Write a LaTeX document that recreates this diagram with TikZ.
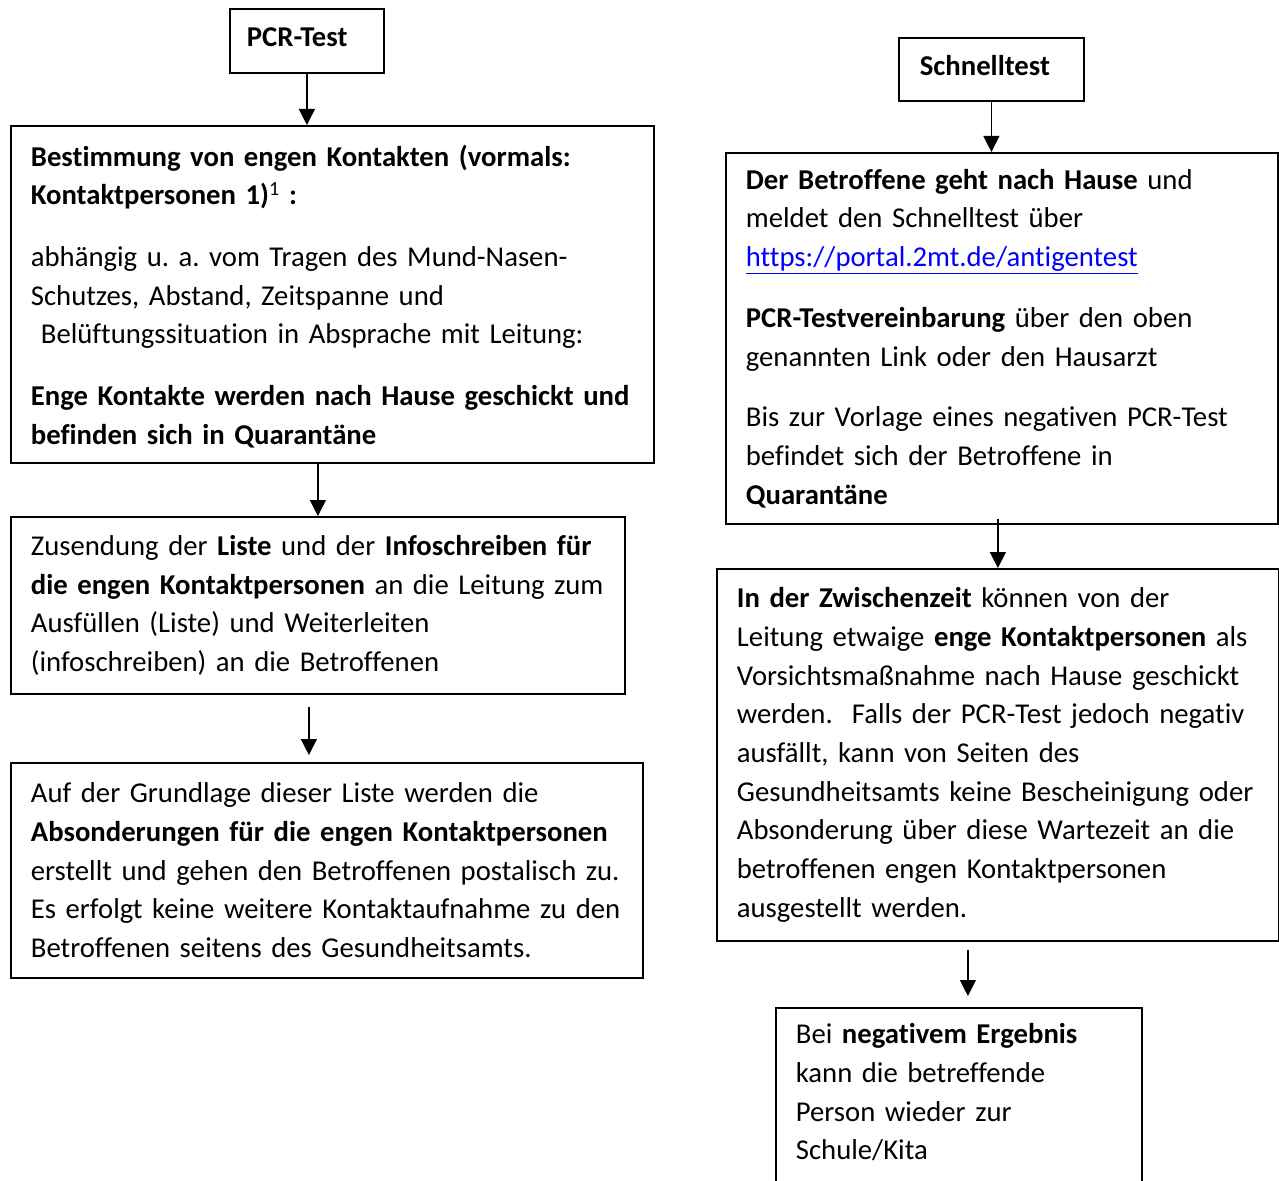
\documentclass[tikz,border=0pt]{standalone}
\usepackage{fontspec}
\setmainfont{Carlito}[Ligatures=CommonOff, WordSpace=0.8]
\usepackage{tikz}
\usetikzlibrary{arrows.meta,positioning,calc}
\definecolor{linkblue}{RGB}{0,0,255}
\tikzstyle{box}=[draw, line width=1.8pt, rectangle, anchor=north west, inner xsep=20pt, inner ysep=0pt, align=left]
\tikzstyle{arrow}=[draw, line width=1.3pt, -{Triangle[width=16pt,length=16pt]}]
\frenchspacing

\begin{document}
\begin{tikzpicture}[x=1pt, y=-1pt, font=\fontsize{28.7pt}{38.67pt}\selectfont]

    \useasboundingbox (0,0) rectangle (1279,1180);

    % PCR-Test column
    \node[box, inner xsep=17pt, text width=120pt, minimum height=64pt] (pcr) at (229,8) {\textbf{PCR-Test}\rule[-7pt]{0pt}{0pt}};

    \node[box, text width=603pt, minimum height=337pt] (kontakte) at (10,125) {%
        \rule{0pt}{25pt}\textbf{Bestimmung von engen Kontakten (vormals:}\\
        \textbf{Kontaktpersonen 1)}\textsuperscript{1}\textbf{ :}\\[23pt]
        abhängig u. a. vom Tragen des Mund-Nasen-\\
        Schutzes, Abstand, Zeitspanne und\\
        \hspace*{10pt}Belüftungssituation in Absprache mit Leitung:\\[23pt]
        \textbf{Enge Kontakte werden nach Hause geschickt und}\\
        \textbf{befinden sich in Quarantäne}};

    \node[box, text width=574pt, minimum height=177pt] (liste) at (10,516) {%
        Zusendung der \textbf{Liste} und der \textbf{Infoschreiben für}\\
        \textbf{die engen Kontaktpersonen} an die Leitung zum\\
        Ausfüllen (Liste) und Weiterleiten\\
        (infoschreiben) an die Betroffenen};

    \node[box, text width=592pt, minimum height=215pt] (absonderung) at (10,762) {%
        Auf der Grundlage dieser Liste werden die\\
        \textbf{Absonderungen für die engen Kontaktpersonen}\\
        erstellt und gehen den Betroffenen postalisch zu.\\
        Es erfolgt keine weitere Kontaktaufnahme zu den\\
        Betroffenen seitens des Gesundheitsamts.};

    % Schnelltest column
    \node[box, inner xsep=21pt, text width=143pt, minimum height=63pt] (schnell) at (898,37) {\textbf{Schnelltest}\rule[-7pt]{0pt}{0pt}};

    \node[box, text width=512pt, minimum height=371pt] (hause) at (725,152) {%
        \textbf{Der Betroffene geht nach Hause} und\\
        meldet den Schnelltest über\\
        \textcolor{linkblue}{\underline{https://portal.2mt.de/antigentest}}\\[22pt]
        \textbf{PCR-Testvereinbarung} über den oben\\
        genannten Link oder den Hausarzt\\[22pt]
        Bis zur Vorlage eines negativen PCR-Test\\
        befindet sich der Betroffene in\\
        \textbf{Quarantäne}};

    \node[box, text width=522pt, minimum height=372pt] (zwischenzeit) at (716,568) {%
        \textbf{In der Zwischenzeit} können von der\\
        Leitung etwaige \textbf{enge Kontaktpersonen} als\\
        Vorsichtsmaßnahme nach Hause geschickt\\
        werden.\ \ Falls der PCR-Test jedoch negativ\\
        ausfällt, kann von Seiten des\\
        Gesundheitsamts keine Bescheinigung oder\\
        Absonderung über diese Wartezeit an die\\
        betroffenen engen Kontaktpersonen\\
        ausgestellt werden.};

    % bottom edge lies below the page, as in the original
    \node[box, text width=326pt, minimum height=183pt] (negativ) at (775,1007) {%
        Bei \textbf{negativem Ergebnis}\\
        kann die betreffende\\
        Person wieder zur\\
        Schule/Kita\rule[-15pt]{0pt}{0pt}};

    % Arrows
    \draw[arrow] (pcr.south) -- (pcr.south |- kontakte.north);
    \draw[arrow] (kontakte.south -| liste.north) -- (liste.north);
    \draw[arrow] ($(liste.south)+(-9,12)$) -- ($(liste.south |- absonderung.north)+(-9,-7)$);

    \draw[arrow] (schnell.south) -- (schnell.south |- hause.north);
    \draw[arrow] ($(hause.south -| zwischenzeit.north)+(0,-6)$) -- (zwischenzeit.north);
    \draw[arrow] ($(zwischenzeit.south)+(-30,8)$) -- ($(zwischenzeit.south |- negativ.north)+(-30,-11)$);

\end{tikzpicture}
\end{document}
